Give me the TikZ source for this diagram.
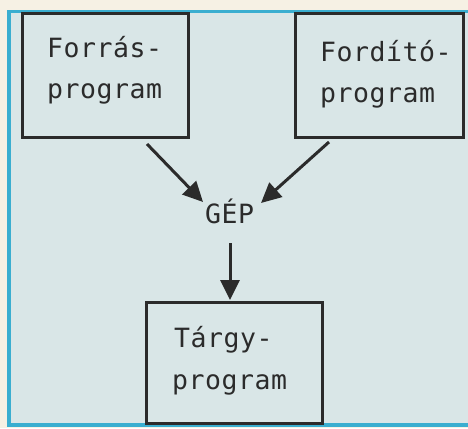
\documentclass[tikz,border=0pt]{standalone}
\usepackage{fontspec}
\newfontfamily\monof[LetterSpace=2]{DejaVu Sans Mono}
\usetikzlibrary{arrows.meta}
\definecolor{paper}{HTML}{F6F1E4}
\definecolor{panel}{HTML}{D9E6E7}
\definecolor{frame}{HTML}{3AAED0}
\definecolor{ink}{HTML}{2B2B2B}
\tikzset{
  boxst/.style={draw=ink, line width=3pt, fill=none, inner sep=0pt},
  lbl/.style={anchor=base west, inner sep=0pt, text=ink, font=\monof\fontsize{26.5}{27}\selectfont},
  arr/.style={draw=ink, line width=3pt, -{Triangle[length=20pt,width=19pt]}},
}
\begin{document}
\begin{tikzpicture}[x=1pt,y=-1pt]
\useasboundingbox (0,0) rectangle (468,428);
\fill[paper] (0,0) rectangle (468,428);
\fill[panel] (9,11.5) rectangle (468,425);
\draw[frame, line width=3.5pt] (468,11.5) -- (9,11.5) -- (9,425) -- (468,425);
% boxes
\node[boxst, minimum width=166pt, minimum height=123pt] (forras) at (105,75.5) {};
\node[boxst, minimum width=168pt, minimum height=123pt] (fordito) at (379,75.5) {};
\node[boxst, minimum width=176pt, minimum height=121pt] (targy) at (234,362.5) {};
% texts
\node[lbl] (t1a) at (47,57) {Forrás-};
\node[lbl] (t1b) at (47,98) {program};
\node[lbl] (t2a) at (320,61) {Fordító-};
\node[lbl] (t2b) at (320,102) {program};
\node[lbl] (t3a) at (174,347) {Tárgy-};
\node[lbl] (t3b) at (172,389) {program};
\node[lbl] (gep) at (205,223) {GÉP};
% arrows
\coordinate (a1s) at (147,144);
\coordinate (a1e) at (203,202);
\coordinate (a2s) at (329,142);
\coordinate (a2e) at (261,203);
\coordinate (a3s) at (230,243);
\coordinate (a3e) at (230,300);
\draw[arr] (a1s) -- (a1e);
\draw[arr] (a2s) -- (a2e);
\draw[arr] (a3s) -- (a3e);
\end{tikzpicture}
\end{document}
